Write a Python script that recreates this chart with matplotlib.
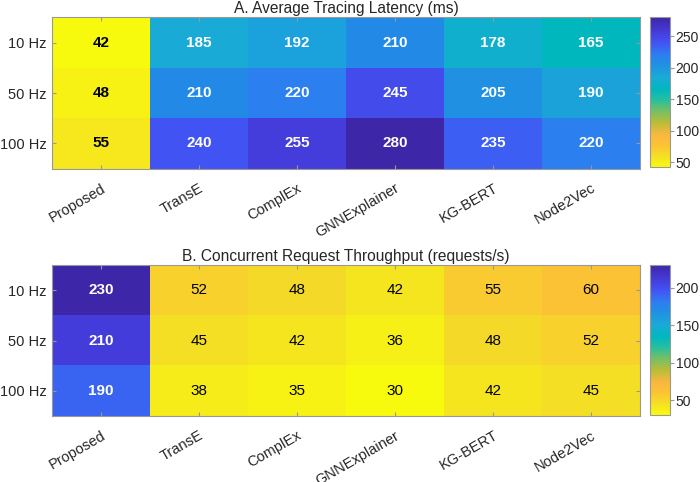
import matplotlib
matplotlib.use('Agg')
import matplotlib.pyplot as plt
import matplotlib.transforms as mtrans
import numpy as np
from matplotlib.colors import LinearSegmentedColormap

plt.rcParams['font.family'] = ['Liberation Sans', 'DejaVu Sans']

methods = ['Proposed', 'TransE', 'ComplEx', 'GNNExplainer', 'KG-BERT', 'Node2Vec']
rates = ['10 Hz', '50 Hz', '100 Hz']

# rows = rates, cols = methods
latency = np.array([
    [42, 185, 192, 210, 178, 165],
    [48, 210, 220, 245, 205, 190],
    [55, 240, 255, 280, 235, 220],
])
throughput = np.array([
    [230, 52, 48, 42, 55, 60],
    [210, 45, 42, 36, 48, 52],
    [190, 38, 35, 30, 42, 45],
])

# rough parula, flipped so low values are yellow
parula_pts = [
    (0.00, (0.242, 0.150, 0.660)),
    (0.10, (0.270, 0.240, 0.860)),
    (0.17, (0.260, 0.330, 0.960)),
    (0.25, (0.170, 0.500, 0.940)),
    (0.30, (0.130, 0.550, 0.900)),
    (0.40, (0.100, 0.670, 0.840)),
    (0.48, (0.000, 0.720, 0.750)),
    (0.55, (0.150, 0.750, 0.620)),
    (0.62, (0.450, 0.750, 0.400)),
    (0.70, (0.720, 0.740, 0.220)),
    (0.78, (0.970, 0.720, 0.250)),
    (0.85, (0.990, 0.760, 0.210)),
    (0.92, (0.960, 0.870, 0.150)),
    (1.00, (0.976, 0.983, 0.054)),
]
parula = LinearSegmentedColormap.from_list('parula', parula_pts, N=256)
cmap = parula.reversed()

fig = plt.figure(figsize=(7, 4.82), dpi=100)

panels = [
    (latency, 'A. Average Tracing Latency (ms)', [0.0743, 0.6504, 0.84, 0.3133],
     [0.9286, 0.6525, 0.0286, 0.3112], True),
    (throughput, 'B. Concurrent Request Throughput (requests/s)', [0.0743, 0.1369, 0.84, 0.3133],
     [0.9286, 0.139, 0.0286, 0.3112], False),
]

grey = '#262626'
shift = mtrans.ScaledTranslation(6 / 100, 0, fig.dpi_scale_trans)
for data, title, pos, cpos, bold_all in panels:
    ax = fig.add_axes(pos)
    vmin, vmax = data.min(), data.max()
    im = ax.imshow(data, cmap=cmap, vmin=vmin, vmax=vmax, aspect='auto')
    for i in range(data.shape[0]):
        for j in range(data.shape[1]):
            v = data[i, j]
            r, g, b, _ = cmap((v - vmin) / (vmax - vmin))
            lum = 0.299 * r + 0.587 * g + 0.114 * b
            white = lum < 0.6
            ax.text(j, i, str(v), ha='center', va='center', fontsize=11,
                    color='white' if white else 'black',
                    fontweight='bold' if (white or bold_all) else 'normal')
    ax.set_xticks(range(len(methods)))
    ax.set_xticklabels(methods, rotation=30, ha='right', rotation_mode='anchor',
                       fontsize=10.5, color=grey)
    for lab in ax.get_xticklabels():
        lab.set_transform(lab.get_transform() + shift)
    ax.set_yticks(range(len(rates)))
    ax.set_yticklabels(rates, fontsize=10.5, color=grey)
    ax.tick_params(direction='in', length=3, color='#999999', top=True, right=True)
    ax.tick_params(axis='x', pad=9)
    ax.tick_params(axis='y', pad=4)
    for s in ax.spines.values():
        s.set_color('#999999')
        s.set_linewidth(0.8)
    ax.set_title(title, fontsize=11.2, color=grey, pad=3)

    cax = fig.add_axes(cpos)
    cb = fig.colorbar(im, cax=cax)
    cb.outline.set_edgecolor('#999999')
    cb.outline.set_linewidth(0.8)
    cax.tick_params(labelsize=10, colors=grey, length=3, direction='out', pad=1)
    cax.tick_params(color='#999999')

fig.savefig('out.png', dpi=100)
